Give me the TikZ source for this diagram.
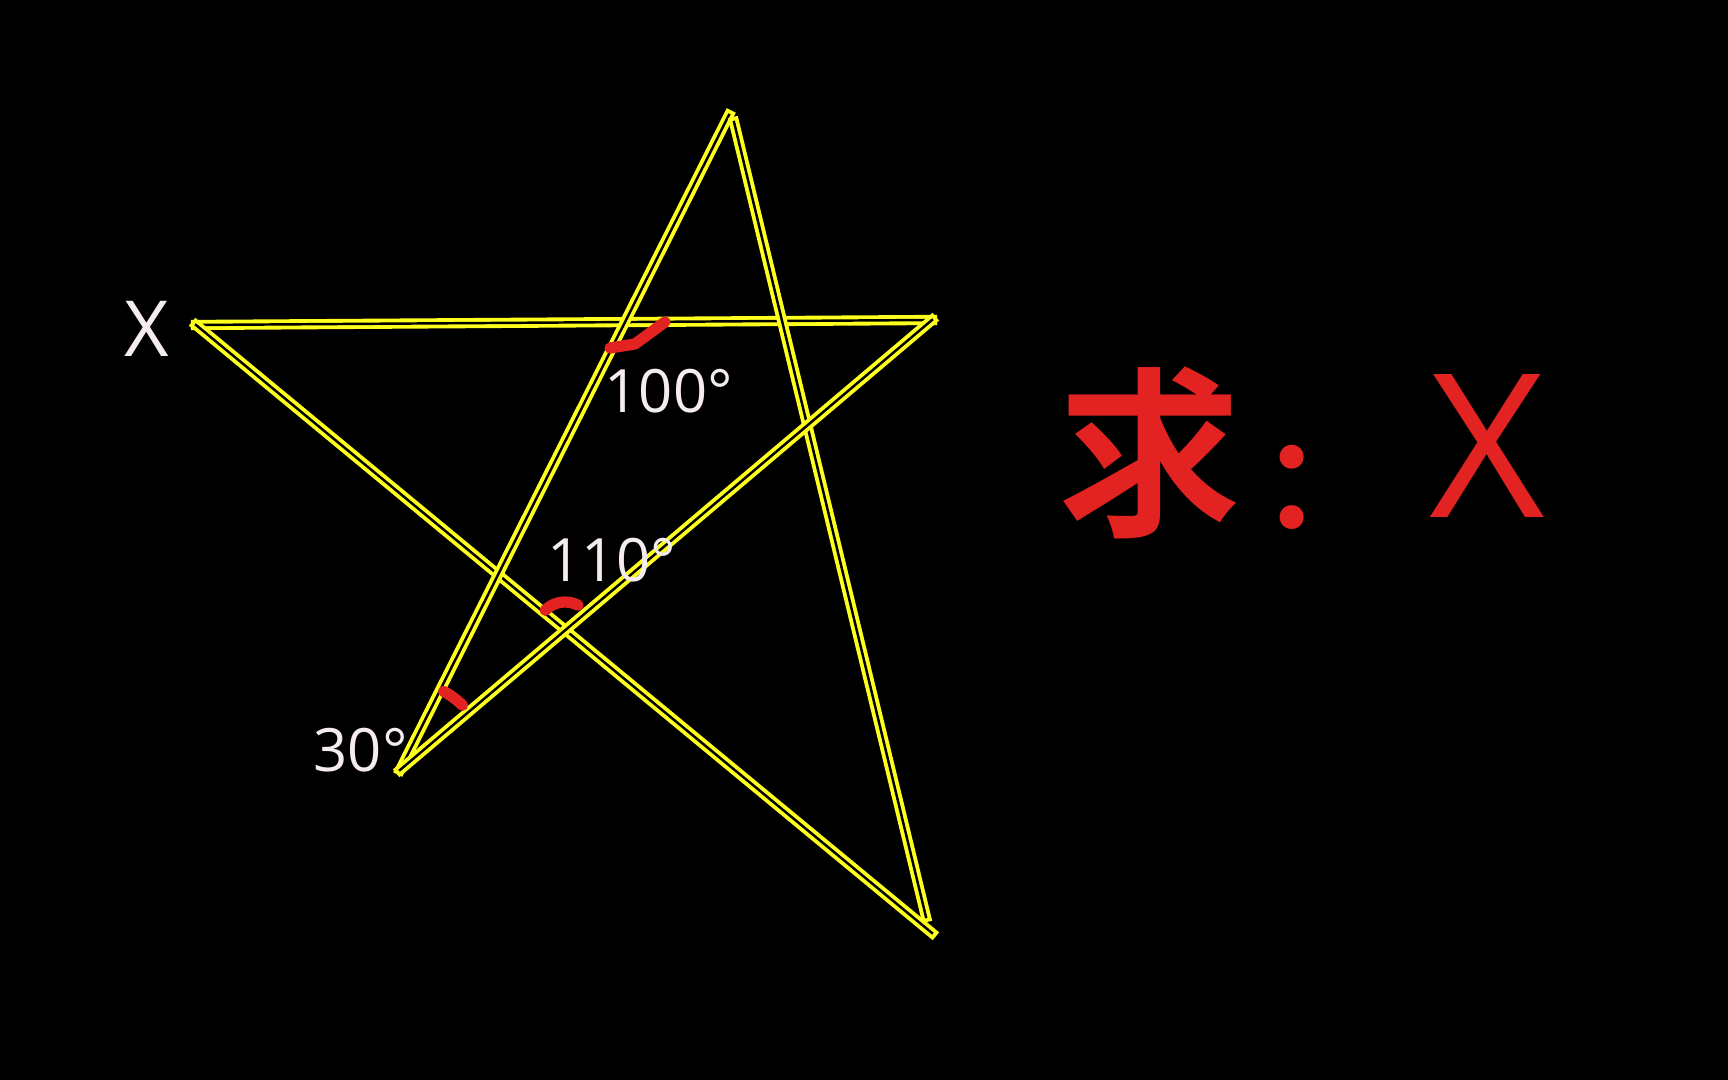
\documentclass[tikz,border=0pt]{standalone}
\usepackage{fontspec}
\setmainfont{Open Sans}
\newfontfamily\cjk{Noto Sans CJK SC Bold}
\usetikzlibrary{calc}

\definecolor{StarYellow}{HTML}{FFFF1E}
\definecolor{MarkRed}{HTML}{E32222}
\definecolor{LabelWhite}{HTML}{F4ECEF}

\tikzset{
    starline/.style={draw=StarYellow, line width=1.1pt, double=black, double distance=0.7pt, line cap=rect},
    anglemark/.style={MarkRed, line width=3.2pt, line cap=round, line join=round},
    deglabel/.style={text=LabelWhite, inner sep=0pt, anchor=base west, font=\fontsize{17}{20}\selectfont},
    asklabel/.style={text=MarkRed, inner sep=0pt},
}

\begin{document}
\begin{tikzpicture}
    \fill[black] (0,0) rectangle (17.28,10.8); % 1728 x 1080 frame
    \useasboundingbox (0,0) rectangle (17.28,10.8);
    % star points
    \coordinate (P) at (1.96,7.55);  % tip at X
    \coordinate (R) at (9.32,7.60);
    \coordinate (T) at (7.29,9.65);
    \coordinate (T') at (7.34,9.58);
    \coordinate (L) at (4.00,3.10);  % tip at 30
    \coordinate (B) at (9.32,1.47);
    \coordinate (B') at (9.26,1.63);
    \draw[starline] (P) -- (R);
    \draw[starline] (P) -- (B);
    \draw[starline] (L) -- (T);
    \draw[starline] (T') -- (B');
    \draw[starline] (L) -- (R);
    % angle marks
    \draw[anglemark] (6.10,7.32) -- (6.35,7.36) -- (6.65,7.58);
    \draw[anglemark] (5.452,4.698) arc[start angle=135, end angle=62, radius=0.28];
    \draw[anglemark] ($(L)+(61:0.9)$) arc[start angle=61, end angle=46, radius=0.9];
    % labels
    \node[text=LabelWhite, inner sep=0pt, font=\fontsize{22}{26}\selectfont] (xlab) at (1.47,7.51) {X};
    \node[deglabel] (a100) at (6.04,6.67) {100°};
    \node[deglabel] (a110) at (5.47,4.98) {110°};
    \node[deglabel] (a30) at (3.13,3.08) {30°};
    \node[asklabel, font=\cjk\fontsize{52}{60}\selectfont] (ask) at (11.50,6.27) {求};
    \node[asklabel, font=\cjk\fontsize{36}{42}\selectfont] (colon) at (13.24,5.93) {：};
    \node[asklabel, font=\fontsize{57}{66}\selectfont] (xask) at (14.87,6.34) {X};
\end{tikzpicture}
\end{document}
